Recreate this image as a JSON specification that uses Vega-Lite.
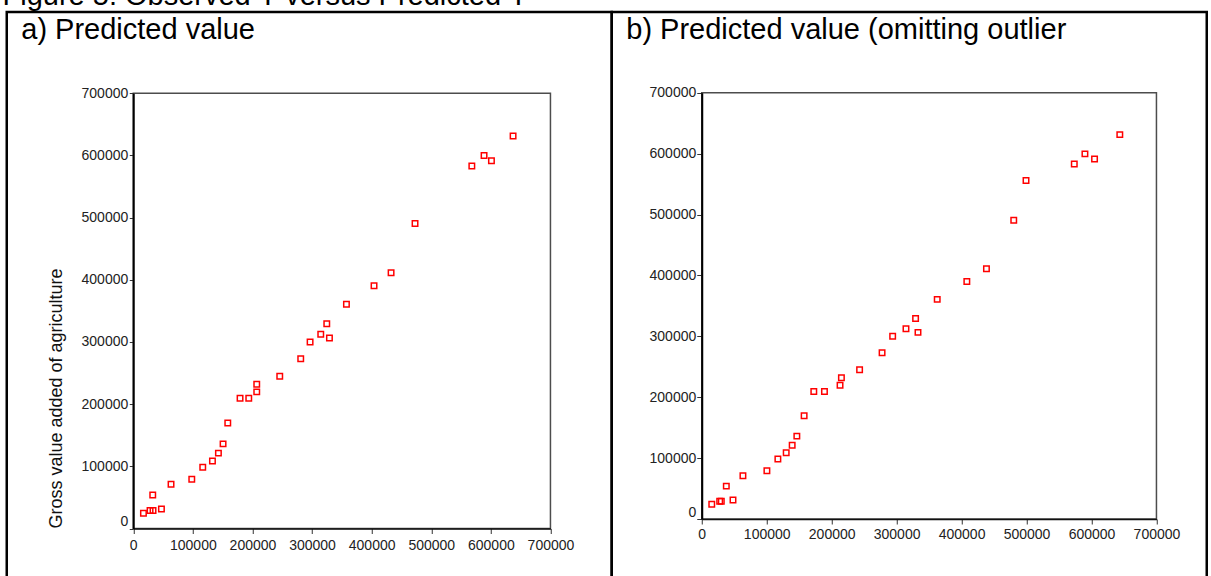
{
  "$schema": "https://vega.github.io/schema/vega-lite/v6.json",
  "padding": {"left": 1.75, "top": -19, "right": 0, "bottom": -8},
  "background": "white",
  "title": {"text": "Figure 5: Observed Y versus Predicted Y", "anchor": "start", "baseline": "alphabetic", "offset": 6.5, "dy": 29.5, "dx": -3, "fontSize": 29, "font": "Liberation Sans", "fontWeight": "normal", "color": "#000"},
  "spacing": 0,
  "bounds": "flush",
  "datasets": {
    "pts": [
      {"panel": "a", "pred": 17100, "obs": 24400},
      {"panel": "a", "pred": 28200, "obs": 29000},
      {"panel": "a", "pred": 33200, "obs": 29000},
      {"panel": "a", "pred": 32700, "obs": 54000},
      {"panel": "a", "pred": 47300, "obs": 31200},
      {"panel": "a", "pred": 63400, "obs": 71000},
      {"panel": "a", "pred": 98200, "obs": 79200},
      {"panel": "a", "pred": 116600, "obs": 98400},
      {"panel": "a", "pred": 132900, "obs": 108700},
      {"panel": "a", "pred": 142900, "obs": 121200},
      {"panel": "a", "pred": 150700, "obs": 136100},
      {"panel": "a", "pred": 158600, "obs": 169700},
      {"panel": "a", "pred": 179200, "obs": 209300},
      {"panel": "a", "pred": 193800, "obs": 209300},
      {"panel": "a", "pred": 207200, "obs": 219700},
      {"panel": "a", "pred": 207200, "obs": 232000},
      {"panel": "a", "pred": 245800, "obs": 245000},
      {"panel": "a", "pred": 281000, "obs": 273000},
      {"panel": "a", "pred": 296700, "obs": 300000},
      {"panel": "a", "pred": 314600, "obs": 312500},
      {"panel": "a", "pred": 324700, "obs": 329300},
      {"panel": "a", "pred": 329200, "obs": 306500},
      {"panel": "a", "pred": 357700, "obs": 360700},
      {"panel": "a", "pred": 404000, "obs": 390200},
      {"panel": "a", "pred": 432600, "obs": 411100},
      {"panel": "a", "pred": 472800, "obs": 490500},
      {"panel": "a", "pred": 568100, "obs": 583100},
      {"panel": "a", "pred": 588600, "obs": 599700},
      {"panel": "a", "pred": 601000, "obs": 591200},
      {"panel": "a", "pred": 637300, "obs": 631300},
      {"panel": "b", "pred": 15400, "obs": 24400},
      {"panel": "b", "pred": 27600, "obs": 29000},
      {"panel": "b", "pred": 30100, "obs": 29000},
      {"panel": "b", "pred": 37800, "obs": 54000},
      {"panel": "b", "pred": 48100, "obs": 31200},
      {"panel": "b", "pred": 63400, "obs": 71000},
      {"panel": "b", "pred": 100300, "obs": 79200},
      {"panel": "b", "pred": 117200, "obs": 98400},
      {"panel": "b", "pred": 130000, "obs": 108700},
      {"panel": "b", "pred": 139200, "obs": 121200},
      {"panel": "b", "pred": 146400, "obs": 136100},
      {"panel": "b", "pred": 157600, "obs": 169700},
      {"panel": "b", "pred": 172500, "obs": 209300},
      {"panel": "b", "pred": 188900, "obs": 209300},
      {"panel": "b", "pred": 212900, "obs": 219700},
      {"panel": "b", "pred": 215000, "obs": 232000},
      {"panel": "b", "pred": 243000, "obs": 245000},
      {"panel": "b", "pred": 277600, "obs": 273000},
      {"panel": "b", "pred": 293900, "obs": 300000},
      {"panel": "b", "pred": 314400, "obs": 312500},
      {"panel": "b", "pred": 329200, "obs": 329300},
      {"panel": "b", "pred": 332900, "obs": 306500},
      {"panel": "b", "pred": 362500, "obs": 360700},
      {"panel": "b", "pred": 408100, "obs": 390200},
      {"panel": "b", "pred": 438300, "obs": 411100},
      {"panel": "b", "pred": 480300, "obs": 490500},
      {"panel": "b", "pred": 499200, "obs": 555800},
      {"panel": "b", "pred": 573500, "obs": 583100},
      {"panel": "b", "pred": 589900, "obs": 599700},
      {"panel": "b", "pred": 604700, "obs": 591200},
      {"panel": "b", "pred": 643600, "obs": 631300}
    ]
  },
  "hconcat": [
    {
      "width": 605,
      "height": 570,
      "view": {"stroke": "#000", "strokeWidth": 2.5, "fill": "white"},
      "resolve": {"axis": {"x": "independent", "y": "independent"}},
      "layer": [
        {
          "data": {"values": [{}]},
          "mark": {"type": "rect", "fill": null, "stroke": "#4d4d4d", "strokeWidth": 1.5},
          "encoding": {
            "x": {"datum": 0, "type": "quantitative",
              "axis": {"orient": "top", "offset": 0, "minExtent": 0, "maxExtent": 0, "domain": false, "ticks": false, "labels": false, "grid": false, "title": "a) Predicted value", "titleX": 14, "titleY": 26.2, "titleAlign": "left", "titleBaseline": "alphabetic", "titleAngle": 0, "titleFontSize": 29, "titleFontWeight": "normal", "titleColor": "#000", "titleFont": "Liberation Sans"}},
            "x2": {"datum": 700000},
            "y": {"datum": 0, "type": "quantitative", "axis": null},
            "y2": {"datum": 700000}
          }
        },
        {
          "data": {"name": "pts"},
          "transform": [{"filter": "datum.panel == 'a'"}],
          "mark": {"type": "point", "shape": "square", "filled": false, "color": "#ff0000", "size": 30, "strokeWidth": 1.5, "opacity": 1},
          "encoding": {
            "x": {"field": "pred", "type": "quantitative",
              "scale": {"domain": [0, 700000], "range": [126.5, 543.7], "nice": false, "zero": false},
              "axis": {"orient": "bottom", "values": [0, 100000, 200000, 300000, 400000, 500000, 600000, 700000], "format": "d", "title": null, "grid": false, "offset": -53.5, "domainColor": "#111", "domainWidth": 1.5, "tickColor": "#333", "tickSize": 5, "tickWidth": 1, "labelFontSize": 14, "labelColor": "#222", "labelPadding": 5, "labelFont": "Liberation Sans", "labelFlush": false, "labelOverlap": false, "zindex": 1}},
            "y": {"field": "obs", "type": "quantitative",
              "scale": {"domain": [0, 700000], "range": [516.5, 81.2], "nice": false, "zero": false},
              "axis": {"orient": "left", "values": [0, 100000, 200000, 300000, 400000, 500000, 600000, 700000], "format": "d", "title": "Gross value added of agriculture", "titleFontSize": 18, "titleFont": "Liberation Sans", "titleFontWeight": "normal", "titleColor": "#111", "titleX": -68, "titleY": 386, "titleAngle": 270, "titleBaseline": "bottom", "titleAlign": "center", "grid": false, "offset": -126.5, "domainColor": "#000", "domainWidth": 2, "tickColor": "#333", "tickSize": 4, "tickWidth": 1, "labelFontSize": 14, "labelColor": "#222", "labelPadding": 1.5, "labelFont": "Liberation Sans", "labelFlush": false, "labelOverlap": false, "labelBaseline": {"condition": {"test": "datum.value == 0", "value": "bottom"}, "value": "middle"}, "zindex": 1}}
          }
        }
      ]
    },
    {
      "width": 595,
      "height": 570,
      "view": {"stroke": "#000", "strokeWidth": 2.5, "fill": "white"},
      "resolve": {"axis": {"x": "independent", "y": "independent"}},
      "layer": [
        {
          "data": {"values": [{}]},
          "mark": {"type": "rect", "fill": null, "stroke": "#4d4d4d", "strokeWidth": 1.5},
          "encoding": {
            "x": {"datum": 0, "type": "quantitative",
              "axis": {"orient": "top", "offset": 0, "minExtent": 0, "maxExtent": 0, "domain": false, "ticks": false, "labels": false, "grid": false, "title": "b) Predicted value (omitting outlier", "titleX": 14, "titleY": 26.2, "titleAlign": "left", "titleBaseline": "alphabetic", "titleAngle": 0, "titleFontSize": 29, "titleFontWeight": "normal", "titleColor": "#000", "titleFont": "Liberation Sans"}},
            "x2": {"datum": 700000},
            "y": {"datum": 0, "type": "quantitative", "axis": null},
            "y2": {"datum": 700000}
          }
        },
        {
          "data": {"name": "pts"},
          "transform": [{"filter": "datum.panel == 'b'"}],
          "mark": {"type": "point", "shape": "square", "filled": false, "color": "#ff0000", "size": 30, "strokeWidth": 1.5, "opacity": 1},
          "encoding": {
            "x": {"field": "pred", "type": "quantitative",
              "scale": {"domain": [0, 700000], "range": [90, 544.7], "nice": false, "zero": false},
              "axis": {"orient": "bottom", "values": [0, 100000, 200000, 300000, 400000, 500000, 600000, 700000], "format": "d", "title": null, "grid": false, "offset": -63, "domainColor": "#111", "domainWidth": 1.5, "tickColor": "#333", "tickSize": 5, "tickWidth": 1, "labelFontSize": 14, "labelColor": "#222", "labelPadding": 3, "labelFont": "Liberation Sans", "labelFlush": false, "labelOverlap": false, "zindex": 1}},
            "y": {"field": "obs", "type": "quantitative",
              "scale": {"domain": [0, 700000], "range": [507, 80.8], "nice": false, "zero": false},
              "axis": {"orient": "left", "values": [0, 100000, 200000, 300000, 400000, 500000, 600000, 700000], "format": "d", "title": null, "grid": false, "offset": -90, "domainColor": "#000", "domainWidth": 2, "tickColor": "#333", "tickSize": 5, "tickWidth": 1, "labelFontSize": 14, "labelColor": "#222", "labelPadding": 1, "labelFont": "Liberation Sans", "labelFlush": false, "labelOverlap": false, "labelBaseline": {"condition": {"test": "datum.value == 0", "value": "bottom"}, "value": "middle"}, "zindex": 1}}
          }
        }
      ]
    }
  ],
  "config": {
    "font": "Liberation Sans",
    "axis": {"grid": false}
  }
}
